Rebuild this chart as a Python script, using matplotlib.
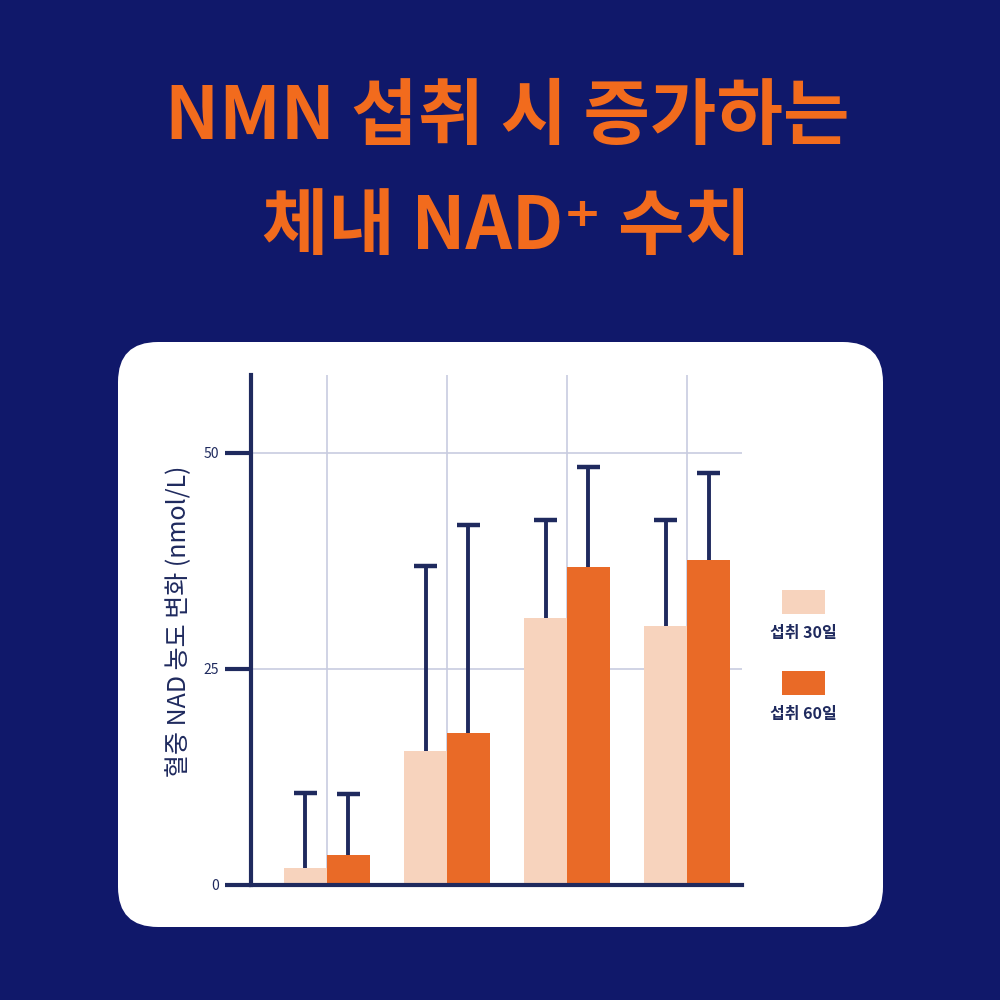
import matplotlib
matplotlib.use("Agg")
import matplotlib.pyplot as plt
from matplotlib.patches import FancyBboxPatch, Rectangle
import numpy as np

plt.rcParams["font.family"] = ["Noto Sans CJK KR", "DejaVu Sans"]

NAVY_BG = "#10186a"
NAVY = "#1f2a5e"
ORANGE_TITLE = "#f26b1d"
LIGHT = "#f7d3bd"
DARK = "#e96a27"
GRID = "#c8cce0"

groups = [0, 1, 2, 3]
series_labels = ["섭취 30일", "섭취 60일"]
mean_30 = [2.0, 15.5, 30.9, 30.0]
mean_60 = [3.5, 17.6, 36.8, 37.6]
upper_30 = [10.6, 36.9, 42.2, 42.2]   # top of error bar
upper_60 = [10.5, 41.7, 48.3, 47.7]
yticks = [0, 25, 50]

fig = plt.figure(figsize=(10, 10), dpi=100)
fig.patch.set_facecolor(NAVY_BG)

# white rounded card
card = FancyBboxPatch((0.118 + 0.04, 0.073 + 0.04), 0.765 - 0.08, 0.585 - 0.08,
                      boxstyle="round,pad=0.04", transform=fig.transFigure,
                      facecolor="white", edgecolor="none", zorder=-5)
fig.patches.append(card)

fig.text(0.507, 0.882, "NMN 섭취 시 증가하는", ha="center", va="center",
         fontsize=52, fontweight="bold", color=ORANGE_TITLE)
fig.text(0.507, 0.772, "체내 NAD⁺ 수치", ha="center", va="center",
         fontsize=52, fontweight="bold", color=ORANGE_TITLE)

ax = fig.add_axes([0.251, 0.115, 0.491, 0.51])
ax.set_zorder(2)
ax.set_facecolor("none")

x = np.array(groups, dtype=float)
w = 0.358
cap = 0.095
m30 = np.array(mean_30)
m60 = np.array(mean_60)

ax.bar(x - w / 2, m30, width=w, color=LIGHT, zorder=3)
ax.bar(x + w / 2, m60, width=w, color=DARK, zorder=3)

# upper-only error bars
for xs, lo, hi in [(x - w / 2, m30, upper_30), (x + w / 2, m60, upper_60)]:
    ax.vlines(xs, lo, hi, color=NAVY, linewidth=2.8, zorder=4)
    ax.hlines(hi, xs - cap, xs + cap, color=NAVY, linewidth=3.2, zorder=4)

ax.set_xlim(-0.633, 3.458)
ax.set_ylim(0, 59)
ax.set_xticks(x)
ax.set_xticklabels([])
ax.tick_params(axis="x", length=0)
ax.set_yticks(yticks)
ax.tick_params(axis="y", length=19, width=3, color=NAVY, labelsize=10,
               labelcolor=NAVY, pad=4)
ax.grid(True, color=GRID, linewidth=1.2, zorder=1)

for side in ["top", "right"]:
    ax.spines[side].set_visible(False)
for side in ["left", "bottom"]:
    ax.spines[side].set_color(NAVY)
    ax.spines[side].set_linewidth(3)
    ax.spines[side].set_zorder(5)

ax.set_ylabel("혈중 NAD 농도 변화 (nmol/L)", fontsize=18, color=NAVY)
ax.yaxis.set_label_coords(-0.12, 0.518)

# legend: swatch above label
for i, (lab, col) in enumerate(zip(series_labels, [LIGHT, DARK])):
    y0 = 0.386 - i * 0.081
    fig.patches.append(Rectangle((0.782, y0), 0.043, 0.024, transform=fig.transFigure,
                                 facecolor=col, edgecolor="none", zorder=1))
    fig.text(0.8035, y0 - 0.019, lab, ha="center", va="center", fontsize=11.5,
             fontweight="bold", color=NAVY)

fig.savefig("out.png", facecolor=fig.get_facecolor())
